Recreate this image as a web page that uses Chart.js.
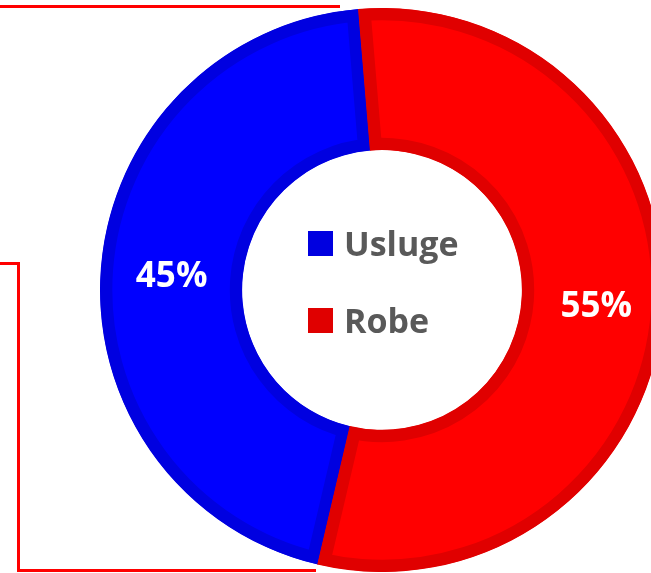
<!DOCTYPE html>
<html>
<head>
<meta charset="utf-8">
<script src="https://cdn.jsdelivr.net/npm/chart.js@4"></script>
<style>
  html, body { margin: 0; padding: 0; background: #fff; overflow: hidden; }
  body { width: 651px; height: 573px; position: relative; }
  .frame { position: absolute; background: #ff0000; }
  #wrap { position: absolute; left: 100px; top: 8px; width: 564px; height: 564px; }
</style>
</head>
<body>
<!-- red callout frame behind the ring -->
<div class="frame" style="left:0;top:5px;width:340px;height:3px"></div>
<div class="frame" style="left:0;top:262px;width:20px;height:3px"></div>
<div class="frame" style="left:17px;top:262px;width:3px;height:310px"></div>
<div class="frame" style="left:17px;top:569px;width:299px;height:3px"></div>
<div id="wrap"><canvas id="c"></canvas></div>
<script>
// ===== DATA =====
const labels = ['Usluge', 'Robe']
const values = [45, 55]
const pctLabels = ['45%', '55%']

const C = {
  blue: '#0000FF', blueEdge: '#0000E0',
  red:  '#FF0000', redEdge:  '#E00000',
  text: '#595959',
}

// labels inside each arc
const arcLabels = {
  id: 'arcLabels',
  afterDatasetsDraw(chart) {
    const ctx = chart.ctx
    ctx.save()
    ctx.font = 'bold 35px "Open Sans"'
    ctx.fillStyle = '#fff'
    ctx.textAlign = 'center'
    ctx.textBaseline = 'middle'
    chart.getDatasetMeta(0).data.forEach((arc, i) => {
      const p = arc.tooltipPosition()
      ctx.fillText(pctLabels[i], p.x + (i ? 4 : 0), p.y + 2)
    })
    ctx.restore()
  }
}

// legend in the hole
const centerLegend = {
  id: 'centerLegend',
  afterDraw(chart) {
    const ctx = chart.ctx
    const arc = chart.getDatasetMeta(0).data[0]
    const cx = arc.x, cy = arc.y
    const ds = chart.data.datasets[0]
    ctx.save()
    ctx.font = 'bold 34px "Open Sans"'
    ctx.textBaseline = 'alphabetic'
    chart.data.labels.forEach((lab, i) => {
      const base = cy - 34 + i * 77
      ctx.fillStyle = ds.borderColor[i]
      ctx.fillRect(cx - 74, base - 25, 25, 25)
      ctx.fillStyle = C.text
      ctx.fillText(lab, cx - 38, base)
    })
    ctx.restore()
  }
}

new Chart(document.getElementById('c'), {
  type: 'doughnut',
  data: {
    labels: labels,
    datasets: [{
      data: values,
      backgroundColor: [C.blue, C.red],
      borderColor: [C.blueEdge, C.redEdge],
      borderWidth: 12,
      borderAlign: 'inner',
      hoverOffset: 0,
      offset: 0,
    }]
  },
  options: {
    responsive: true, maintainAspectRatio: false,
    animation: false,
    rotation: 193.2,
    radius: 282,
    cutout: '49.6%',
    layout: { padding: 0 },
    plugins: {
      legend: { display: false },
      tooltip: { enabled: false },
    }
  },
  plugins: [arcLabels, centerLegend]
})
</script>
</body>
</html>
